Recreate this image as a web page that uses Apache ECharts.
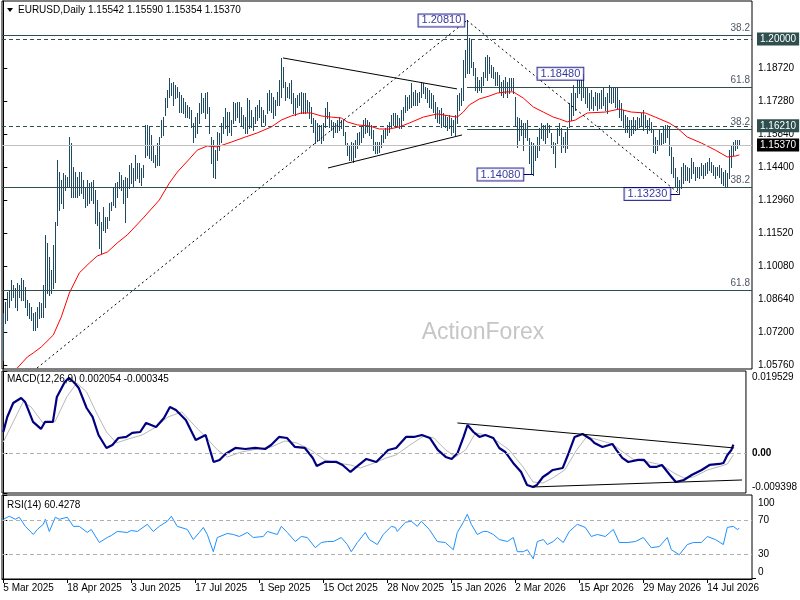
<!DOCTYPE html>
<html><head><meta charset="utf-8">
<script src="https://cdn.jsdelivr.net/npm/echarts@6/dist/echarts.min.js"></script>
<style>html,body{margin:0;padding:0;background:#fff}#c{width:800px;height:600px}</style>
</head><body><div id="c"></div>
<script>
// ---------- DATA ----------
const dateIdx = [0,32,64,96,128,160,192,224,256,288,320,352];
const dateLabels = ['5 Mar 2025','18 Apr 2025','3 Jun 2025','17 Jul 2025','1 Sep 2025','15 Oct 2025','28 Nov 2025','15 Jan 2026','2 Mar 2026','15 Apr 2026','29 May 2026','14 Jul 2026'];
const priceTicks = [1.0576,1.0720,1.0864,1.1008,1.1152,1.1296,1.1440,1.1584,1.1728,1.1872];
const titleOHLC = [1.15542,1.15590,1.15354,1.15370];

const barHigh = [
1.0804,1.0852,1.0896,1.0905,1.0948,1.0926,1.0913,1.0935,1.0926,1.0957,
1.0948,1.0918,1.0861,1.0848,1.0830,1.0804,1.0809,1.0830,1.0852,1.0848,
1.0926,1.1145,1.1110,1.1049,1.0992,1.1101,1.1201,1.1472,1.1419,1.1385,
1.1415,1.1406,1.1398,1.1572,1.1546,1.1441,1.1419,1.1398,1.1419,1.1419,
1.1385,1.1354,1.1385,1.1371,1.1376,1.1385,1.1341,1.1297,1.1245,1.1201,
1.1267,1.1223,1.1223,1.1284,1.1289,1.1354,1.1371,1.1376,1.1419,1.1406,
1.1385,1.1398,1.1393,1.1450,1.1459,1.1437,1.1494,1.1459,1.1459,1.1437,
1.1450,1.1625,1.1625,1.1616,1.1581,1.1537,1.1494,1.1546,1.1572,1.1646,
1.1659,1.1742,1.1777,1.1830,1.1808,1.1812,1.1799,1.1790,1.1769,1.1755,
1.1742,1.1725,1.1712,1.1703,1.1690,1.1633,1.1659,1.1677,1.1721,1.1764,
1.1742,1.1764,1.1769,1.1703,1.1572,1.1559,1.1515,1.1594,1.1590,1.1633,
1.1659,1.1699,1.1681,1.1681,1.1646,1.1725,1.1721,1.1725,1.1725,1.1703,
1.1668,1.1659,1.1742,1.1734,1.1690,1.1659,1.1703,1.1712,1.1734,1.1703,
1.1690,1.1668,1.1764,1.1777,1.1764,1.1747,1.1734,1.1769,1.1821,1.1917,
1.1878,1.1812,1.1790,1.1808,1.1821,1.1764,1.1742,1.1755,1.1764,1.1769,
1.1764,1.1764,1.1734,1.1725,1.1703,1.1655,1.1646,1.1633,1.1625,1.1625,
1.1633,1.1699,1.1725,1.1681,1.1646,1.1638,1.1633,1.1646,1.1659,1.1646,
1.1646,1.1594,1.1546,1.1537,1.1550,1.1546,1.1559,1.1590,1.1594,1.1616,
1.1646,1.1655,1.1646,1.1638,1.1625,1.1603,1.1550,1.1550,1.1550,1.1581,
1.1603,1.1611,1.1625,1.1638,1.1668,1.1677,1.1677,1.1668,1.1655,1.1690,
1.1703,1.1755,1.1747,1.1755,1.1808,1.1769,1.1777,1.1764,1.1769,1.1812,
1.1808,1.1790,1.1786,1.1777,1.1764,1.1755,1.1725,1.1703,1.1690,1.1699,
1.1677,1.1668,1.1659,1.1668,1.1655,1.1646,1.1668,1.1755,1.1764,1.1786,
1.1908,1.1952,1.2081,1.2004,1.1995,1.1899,1.1873,1.1834,1.1821,1.1834,
1.1856,1.1921,1.1930,1.1921,1.1886,1.1878,1.1856,1.1856,1.1843,1.1812,
1.1821,1.1834,1.1812,1.1830,1.1830,1.1830,1.1747,1.1659,1.1655,1.1646,
1.1633,1.1633,1.1646,1.1568,1.1550,1.1546,1.1537,1.1572,1.1611,1.1633,
1.1625,1.1625,1.1633,1.1625,1.1590,1.1550,1.1546,1.1611,1.1633,1.1611,
1.1572,1.1594,1.1616,1.1721,1.1764,1.1799,1.1764,1.1821,1.1821,1.1821,
1.1848,1.1790,1.1786,1.1764,1.1777,1.1747,1.1769,1.1764,1.1764,1.1777,
1.1786,1.1747,1.1764,1.1799,1.1790,1.1790,1.1790,1.1786,1.1734,1.1721,
1.1690,1.1668,1.1659,1.1646,1.1646,1.1659,1.1646,1.1659,1.1655,1.1677,
1.1690,1.1668,1.1646,1.1655,1.1638,1.1603,1.1572,1.1559,1.1603,1.1590,
1.1616,1.1625,1.1625,1.1616,1.1529,1.1485,1.1437,1.1398,1.1385,1.1441,
1.1459,1.1450,1.1441,1.1437,1.1481,1.1463,1.1441,1.1441,1.1441,1.1459,
1.1450,1.1459,1.1463,1.1481,1.1463,1.1450,1.1441,1.1441,1.1450,1.1437,
1.1419,1.1428,1.1415,1.1515,1.1537,1.1550,1.1559,1.1559,1.1559
];
const barLow = [
1.0599,1.0761,1.0774,1.0830,1.0861,1.0874,1.0830,1.0817,1.0874,1.0861,
1.0861,1.0830,1.0795,1.0782,1.0774,1.0730,1.0730,1.0743,1.0782,1.0787,
1.0787,1.0830,1.0891,1.0883,1.0891,1.0913,1.0939,1.1188,1.1254,1.1284,
1.1262,1.1341,1.1354,1.1354,1.1310,1.1310,1.1310,1.1310,1.1319,1.1328,
1.1306,1.1267,1.1275,1.1284,1.1297,1.1284,1.1197,1.1188,1.1088,1.1066,
1.1166,1.1158,1.1175,1.1210,1.1254,1.1275,1.1267,1.1310,1.1350,1.1341,
1.1284,1.1201,1.1310,1.1350,1.1371,1.1354,1.1385,1.1393,1.1376,1.1363,
1.1398,1.1485,1.1494,1.1481,1.1472,1.1463,1.1441,1.1450,1.1450,1.1572,
1.1581,1.1668,1.1703,1.1747,1.1755,1.1712,1.1742,1.1747,1.1681,1.1681,
1.1677,1.1659,1.1659,1.1655,1.1616,1.1550,1.1572,1.1590,1.1633,1.1677,
1.1681,1.1655,1.1677,1.1590,1.1459,1.1398,1.1393,1.1472,1.1515,1.1550,
1.1590,1.1611,1.1581,1.1594,1.1581,1.1633,1.1646,1.1659,1.1638,1.1625,
1.1611,1.1590,1.1590,1.1611,1.1616,1.1603,1.1633,1.1646,1.1659,1.1625,
1.1638,1.1625,1.1677,1.1690,1.1681,1.1655,1.1668,1.1712,1.1712,1.1747,
1.1790,1.1734,1.1747,1.1742,1.1721,1.1677,1.1668,1.1703,1.1712,1.1677,
1.1677,1.1677,1.1681,1.1655,1.1633,1.1594,1.1546,1.1559,1.1559,1.1546,
1.1559,1.1616,1.1655,1.1616,1.1603,1.1572,1.1594,1.1594,1.1603,1.1611,
1.1581,1.1537,1.1494,1.1472,1.1472,1.1463,1.1485,1.1524,1.1537,1.1550,
1.1572,1.1590,1.1594,1.1581,1.1568,1.1515,1.1502,1.1502,1.1507,1.1529,
1.1550,1.1568,1.1581,1.1594,1.1616,1.1625,1.1616,1.1625,1.1611,1.1611,
1.1646,1.1681,1.1690,1.1699,1.1703,1.1712,1.1712,1.1712,1.1725,1.1747,
1.1764,1.1742,1.1725,1.1703,1.1699,1.1681,1.1655,1.1638,1.1633,1.1616,
1.1625,1.1616,1.1603,1.1611,1.1581,1.1594,1.1581,1.1633,1.1690,1.1712,
1.1734,1.1834,1.1851,1.1851,1.1878,1.1843,1.1777,1.1769,1.1777,1.1769,
1.1799,1.1834,1.1821,1.1851,1.1834,1.1830,1.1799,1.1799,1.1769,1.1755,
1.1747,1.1764,1.1747,1.1764,1.1777,1.1764,1.1625,1.1529,1.1559,1.1581,
1.1515,1.1572,1.1559,1.1459,1.1415,1.1408,1.1472,1.1485,1.1515,1.1568,
1.1559,1.1546,1.1572,1.1594,1.1529,1.1502,1.1441,1.1546,1.1581,1.1507,
1.1529,1.1507,1.1524,1.1616,1.1646,1.1668,1.1690,1.1747,1.1764,1.1734,
1.1747,1.1721,1.1703,1.1690,1.1699,1.1690,1.1712,1.1690,1.1699,1.1699,
1.1712,1.1690,1.1677,1.1725,1.1721,1.1725,1.1703,1.1699,1.1659,1.1646,
1.1616,1.1594,1.1594,1.1572,1.1581,1.1590,1.1603,1.1611,1.1616,1.1625,
1.1603,1.1616,1.1590,1.1603,1.1594,1.1507,1.1502,1.1515,1.1537,1.1537,
1.1546,1.1550,1.1572,1.1494,1.1415,1.1398,1.1354,1.1341,1.1323,1.1350,
1.1371,1.1385,1.1385,1.1376,1.1393,1.1415,1.1385,1.1398,1.1393,1.1406,
1.1393,1.1406,1.1415,1.1428,1.1419,1.1406,1.1393,1.1406,1.1398,1.1371,
1.1363,1.1354,1.1354,1.1393,1.1441,1.1494,1.1515,1.1524,1.1537
];

const maIdx = [7,12,15,19,25,29,33,38,43,47,52,57,62,70,78,83,87,93,97,102,107,114,121,127,134,139,144,149,154,159,164,169,172,177,183,188,193,198,203,210,217,223,227,230,233,238,243,247,252,255,260,265,270,275,278,282,286,292,301,308,314,321,326,333,337,342,349,356,362,366,368];
const maVal = [1.0564,1.0612,1.0630,1.0656,1.0708,1.0787,1.0891,1.0979,1.1022,1.1053,1.1070,1.1110,1.1145,1.1219,1.1297,1.1371,1.1419,1.1476,1.1515,1.1533,1.1529,1.1550,1.1572,1.1590,1.1616,1.1646,1.1664,1.1677,1.1677,1.1664,1.1659,1.1655,1.1638,1.1625,1.1620,1.1607,1.1607,1.1616,1.1633,1.1659,1.1673,1.1664,1.1659,1.1681,1.1712,1.1738,1.1751,1.1764,1.1769,1.1769,1.1742,1.1703,1.1681,1.1659,1.1651,1.1638,1.1646,1.1677,1.1681,1.1694,1.1681,1.1677,1.1659,1.1633,1.1611,1.1572,1.1546,1.1515,1.1485,1.1489,1.1494];

const macdIdx = [0,2,5,9,11,15,19,21,25,27,31,33,36,38,42,45,48,52,55,58,62,65,69,72,77,81,84,87,92,97,100,102,103,106,109,112,117,122,127,132,135,139,143,147,152,156,158,162,168,171,175,178,183,188,194,198,203,207,211,215,219,223,226,229,232,234,237,240,243,247,250,253,257,261,264,267,269,272,275,277,282,285,288,292,296,298,302,307,309,312,315,320,323,326,329,332,336,339,343,347,352,356,361,363,365,367,368];
const macdVal = [0.00507,0.00863,0.01195,0.01314,0.01219,0.00745,0.00579,0.00745,0.00745,0.01337,0.01693,0.01788,0.01669,0.01551,0.01076,0.00863,0.00436,0.00128,0.00199,0.00365,0.00389,0.00484,0.00507,0.00721,0.00626,0.00839,0.01100,0.01029,0.00792,0.00318,0.00389,0.00436,0.00270,-0.00204,-0.00156,-0.00014,0.00128,0.00104,0.00128,0.00104,0.00199,0.00389,0.00365,0.00152,0.00128,-0.00109,-0.00299,-0.00204,-0.00204,-0.00275,-0.00441,-0.00322,-0.00133,-0.00204,0.00081,0.00128,0.00389,0.00389,0.00436,0.00365,0.00081,-0.00085,-0.00133,0.00009,0.00389,0.00673,0.00507,0.00389,0.00436,0.00365,0.00128,0.00033,-0.00228,-0.00441,-0.00749,-0.00797,-0.00749,-0.00560,-0.00465,-0.00394,-0.00346,0.00009,0.00389,0.00460,0.00341,0.00247,0.00152,0.00223,0.00081,-0.00109,-0.00204,-0.00156,-0.00156,-0.00322,-0.00322,-0.00275,-0.00512,-0.00678,-0.00631,-0.00512,-0.00394,-0.00275,-0.00251,-0.00228,-0.00038,0.00081,0.002054];
const sigIdx = [0,5,10,14,20,26,32,37,42,47,52,57,63,70,77,83,90,97,102,108,113,120,128,135,142,148,155,162,168,175,180,187,193,198,205,212,217,223,228,233,238,243,248,255,262,267,272,277,283,289,294,300,307,313,318,325,332,338,343,348,355,362,365,368];
const sigVal = [0.00270,0.00745,0.01219,0.01100,0.00721,0.00745,0.01337,0.01669,0.01456,0.00958,0.00507,0.00247,0.00341,0.00436,0.00626,0.00863,0.00982,0.00626,0.00389,0.00081,-0.00085,0.00033,0.00104,0.00152,0.00294,0.00247,0.00081,-0.00156,-0.00228,-0.00275,-0.00346,-0.00228,-0.00109,-0.00038,0.00199,0.00413,0.00365,0.00081,-0.00085,0.00081,0.00484,0.00436,0.00318,0.00081,-0.00322,-0.00678,-0.00702,-0.00583,-0.00394,0.00081,0.00389,0.00318,0.00223,0.00009,-0.00156,-0.00204,-0.00275,-0.00465,-0.00583,-0.00560,-0.00394,-0.00299,-0.00251,-0.000345];
const macdRange = [-0.009398, 0.019529];

const rsiIdx = [0,3,6,8,11,15,17,20,21,23,26,28,32,33,35,38,42,44,48,52,54,57,62,64,67,72,75,78,82,84,87,92,95,98,100,102,105,107,112,115,118,122,125,130,132,137,139,142,146,149,152,156,159,162,165,169,172,174,177,181,183,187,190,194,196,197,198,201,204,207,209,213,217,221,225,227,230,232,234,237,240,242,245,248,252,255,257,260,262,265,267,270,272,275,277,280,283,287,291,294,297,301,305,308,312,316,320,324,328,332,334,338,342,345,349,352,356,360,362,365,367,368];
const rsiVal = [71.1,74.7,71.1,73.5,62.7,53.0,59.0,65.1,71.1,56.6,73.5,71.1,73.5,73.5,62.7,62.7,55.4,59.0,43.4,49.4,51.8,56.6,55.4,57.8,56.6,65.1,56.6,62.7,68.7,74.7,62.7,59.0,47.0,55.4,61.4,53.0,32.5,49.4,54.2,53.0,50.6,55.4,49.4,50.6,56.6,53.0,62.7,55.4,44.6,50.6,49.4,37.3,43.4,44.6,44.6,49.4,41.0,32.5,43.4,55.4,47.0,41.0,53.0,62.7,61.4,56.6,55.4,67.5,68.7,62.7,68.7,59.0,44.6,43.4,34.9,55.4,67.5,77.1,65.1,53.0,56.6,56.6,53.0,47.0,44.6,49.4,32.5,32.5,34.9,24.1,44.6,47.0,41.0,44.6,49.4,43.4,56.6,65.1,61.4,50.6,53.0,50.6,59.0,43.4,43.4,44.6,49.4,37.3,38.6,49.4,34.9,28.9,41.0,43.4,43.4,50.6,47.0,41.0,61.4,62.7,59.0,60.4];
const rsiLevels = [70, 30];
const rsiTicks = [30, 70, 100];
const rsiMinLabel = '0';
const macdLast = [0.002054, -0.000345];
const rsiLast = 60.4278;

// drawn objects (bar index, price)
const fibPrices = [1.2017, 1.1789, 1.1608, 1.1353, 1.0905];
const fibLabels = ['38.2','61.8','38.2','38.2','61.8'];
const fibStart = [null, 231.85, 231.85, null, null];
const boxPrices = [1.2000, 1.1621];
const bidPrice = 1.15370;
const dashTrends = [[[16.85,1.0564],[231.85,1.2081]], [[231.85,1.2081],[337.35,1.1329]]];
const solidTrends = [[[139.85,1.1917],[226.85,1.1782]], [[162.35,1.1437],[229.35,1.1581]]];
const macdTrends = [[[228.9,0.00721],[368.4,0.00128]], [[266.9,-0.00797],[372.4,-0.00631]]];
const swingIdx = [232, 290, 265, 338];
const swingVal = [1.2081, 1.1848, 1.1408, 1.1323];
const connectors = [[[259.9,1.1408],[265,1.1408]], [[333.4,1.1323],[338,1.1323]]];

// ---------- CHART ----------
const FONT = "'Liberation Sans', Arial, sans-serif";
const XMIN = -0.65, XMAX = 374.35;
const chart = echarts.init(document.getElementById('c'));

const slate = '#2f4f4f';
const solidLS = {color: slate, width: 1, type: 'solid'};
const dashLS = {color: slate, width: 1, type: [4, 3]};
const fibLab = t => ({show: true, position: 'insideEndTop', formatter: t, color: '#4e5866', fontSize: 10, fontFamily: FONT, distance: 2});
const boxLab = (t, bg) => ({show: true, position: 'end', formatter: t, color: '#fff', backgroundColor: bg, padding: [2, 3, 1, 3], fontSize: 10, fontFamily: FONT, distance: 5});
const noLab = {show: false};

const priceMarks = [];
fibPrices.forEach((p, k) => {
  if (fibStart[k] == null) priceMarks.push({yAxis: p, lineStyle: solidLS, label: fibLab(fibLabels[k])});
  else priceMarks.push([{coord: [fibStart[k], p], lineStyle: solidLS, label: fibLab(fibLabels[k])}, {coord: [XMAX, p], lineStyle: solidLS, label: fibLab(fibLabels[k])}]);
});
boxPrices.forEach(p => priceMarks.push({yAxis: p, lineStyle: dashLS, label: boxLab(p.toFixed(5), slate)}));
priceMarks.push({yAxis: bidPrice, lineStyle: {color: '#c0c0c0', width: 1, type: 'solid'}, label: boxLab(bidPrice.toFixed(5), '#000')});
const dotLS = {color: '#000', width: 1, type: [2, 3]};
dashTrends.forEach(t => priceMarks.push([{coord: t[0], lineStyle: dotLS, label: noLab}, {coord: t[1], lineStyle: dotLS, label: noLab}]));
const blackLS = {color: '#000', width: 1, type: 'solid'};
solidTrends.forEach(t => priceMarks.push([{coord: t[0], lineStyle: blackLS, label: noLab}, {coord: t[1], lineStyle: blackLS, label: noLab}]));
const navyLS = {color: '#000080', width: 1, type: 'solid'};
connectors.forEach(t => priceMarks.push([{coord: t[0], lineStyle: navyLS, label: noLab}, {coord: t[1], lineStyle: navyLS, label: noLab}]));

const grayDash = {color: '#b0b0b0', width: 1, type: [4, 3]};
const macdMarks = [{yAxis: 0, lineStyle: grayDash, label: noLab}];
macdTrends.forEach(t => macdMarks.push([{coord: t[0], lineStyle: blackLS, label: noLab}, {coord: t[1], lineStyle: blackLS, label: noLab}]));
const rsiMarks = rsiLevels.map(v => ({yAxis: v, lineStyle: grayDash, label: noLab}));

const swingDist = [3, 0, 10, 9];
const swingData = swingIdx.map((x, k) => ({value: [x, swingVal[k]], label: {distance: swingDist[k]}}));

const xAx = (g, show) => ({
  type: 'value', gridIndex: g, min: XMIN, max: XMAX, show: show,
  splitLine: {show: false},
  axisLine: {show: show, lineStyle: {color: '#000'}},
  axisTick: {show: show, customValues: dateIdx, length: 4, lineStyle: {color: '#000'}},
  axisLabel: {show: show, customValues: dateIdx, formatter: v => dateLabels[dateIdx.indexOf(Math.round(v))] || '', align: 'left', color: '#000', fontSize: 10, fontFamily: FONT, margin: 4}
});
const richBase = {fontSize: 10, fontFamily: FONT, color: '#000'};
const yBase = (g, min, max, vals, fmt, rich) => ({
  type: 'value', gridIndex: g, position: 'right', min: min, max: max,
  splitLine: {show: false},
  axisLine: {show: true, lineStyle: {color: '#000'}},
  axisTick: {show: true, customValues: vals, length: 4, lineStyle: {color: '#000'}},
  axisLabel: {customValues: vals, formatter: fmt, color: '#000', fontSize: 10, fontFamily: FONT, margin: 6,
    showMinLabel: true, showMaxLabel: true, hideOverlap: false, rich: rich || {}}
});

const gridBase = {left: 2, right: 48, show: true, borderColor: '#000', borderWidth: 1, containLabel: false};

const macdFmt = v => {
  if (Math.abs(v) < 1e-12) return '{b|0.00}';
  if (v > 0.01) return '{hi|' + v.toFixed(6) + '}';
  return '{lo|' + v.toFixed(6) + '}';
};
const rsiFmt = v => {
  const r = Math.round(v);
  if (r === 100) return '{hi|100}';
  return '{n|' + r + '}';
};

chart.setOption({
  animation: false,
  backgroundColor: '#fff',
  grid: [
    Object.assign({top: 1, height: 368}, gridBase),
    Object.assign({top: 371, height: 122}, gridBase),
    Object.assign({top: 495, height: 84}, gridBase),
    {left: 2, right: 48, top: 578, height: 1, show: false, containLabel: false}
  ],
  xAxis: [xAx(0, false), xAx(1, false), xAx(2, false), xAx(3, true)],
  yAxis: [
    yBase(0, 1.05598, 1.21656, priceTicks, v => v.toFixed(5)),
    yBase(1, macdRange[0], macdRange[1], [macdRange[0], 0, macdRange[1]], macdFmt,
      {b: Object.assign({fontWeight: 'bold'}, richBase), hi: Object.assign({padding: [12, 0, 0, 0]}, richBase), lo: Object.assign({padding: [0, 0, 12, 0]}, richBase)}),
    yBase(2, 0, 100, rsiTicks, rsiFmt,
      {n: richBase, hi: Object.assign({padding: [16, 0, 0, 0]}, richBase)}),
    {type: 'value', gridIndex: 3, show: false, min: 0, max: 1}
  ],
  graphic: [
    {type: 'text', x: 483, y: 333, z: 0, silent: true, style: {text: 'ActionForex', fill: '#c6c6c6', fontSize: 23, fontFamily: FONT, align: 'center', verticalAlign: 'middle'}},
    {type: 'polygon', z: 10, shape: {points: [[7, 8], [13, 8], [10, 12]]}, style: {fill: '#000'}},
    {type: 'text', x: 18, y: 10, z: 10, style: {text: 'EURUSD,Daily ' + titleOHLC.map(v => v.toFixed(5)).join(' '), fill: '#000', fontSize: 10, fontFamily: FONT, verticalAlign: 'middle'}},
    {type: 'text', x: 7, y: 379, z: 10, style: {text: 'MACD(12,26,9) ' + macdLast[0].toFixed(6) + ' ' + macdLast[1].toFixed(6), fill: '#000', fontSize: 10, fontFamily: FONT, verticalAlign: 'middle'}},
    {type: 'text', x: 7, y: 505, z: 10, style: {text: 'RSI(14) ' + rsiLast.toFixed(4), fill: '#000', fontSize: 10, fontFamily: FONT, verticalAlign: 'middle'}},
    {type: 'text', x: 758, y: 572, z: 100, style: {text: rsiMinLabel, fill: '#000', fontSize: 10, fontFamily: FONT, verticalAlign: 'middle'}},
    {type: 'line', z: 100, shape: {x1: 752, y1: 578.5, x2: 756, y2: 578.5}, style: {stroke: '#000', lineWidth: 1}}
  ],
  series: [
    {
      type: 'custom', xAxisIndex: 0, yAxisIndex: 0, z: 3, clip: true,
      data: barHigh.map((h, i) => [i, h, barLow[i]]),
      encode: {x: 0, y: [1, 2]},
      renderItem: function (params, api) {
        const i = api.value(0);
        const a = api.coord([i, api.value(1)]);
        const b = api.coord([i, api.value(2)]);
        const x = Math.round(a[0]) + 0.5;
        return {type: 'line', shape: {x1: x, y1: Math.round(a[1]), x2: x, y2: Math.round(b[1]) + 1}, style: {stroke: '#1f4a63', lineWidth: 1}};
      }
    },
    {
      type: 'line', xAxisIndex: 0, yAxisIndex: 0, z: 4, showSymbol: false, symbol: 'none', clip: true,
      data: maIdx.map((x, k) => [x, maVal[k]]),
      lineStyle: {color: '#ff0000', width: 1},
      markLine: {silent: true, precision: 6, symbol: ['none', 'none'], animation: false, data: priceMarks}
    },
    {
      type: 'scatter', xAxisIndex: 0, yAxisIndex: 0, z: 6, symbolSize: 0, silent: true,
      data: swingData,
      label: {show: true, position: 'left', formatter: p => p.value[1].toFixed(5), color: '#000080', backgroundColor: '#fff', borderColor: '#000080', borderWidth: 1, padding: [1, 3, 0, 3], fontSize: 11, lineHeight: 11, fontFamily: FONT}
    },
    {
      type: 'line', xAxisIndex: 1, yAxisIndex: 1, z: 3, showSymbol: false, symbol: 'none',
      data: sigIdx.map((x, k) => [x, sigVal[k]]),
      lineStyle: {color: '#b8b8b8', width: 1}
    },
    {
      type: 'line', xAxisIndex: 1, yAxisIndex: 1, z: 4, showSymbol: false, symbol: 'none',
      data: macdIdx.map((x, k) => [x, macdVal[k]]),
      lineStyle: {color: '#000080', width: 2.2},
      markLine: {silent: true, precision: 8, symbol: ['none', 'none'], animation: false, data: macdMarks}
    },
    {
      type: 'line', xAxisIndex: 2, yAxisIndex: 2, z: 4, showSymbol: false, symbol: 'none',
      data: rsiIdx.map((x, k) => [x, rsiVal[k]]),
      lineStyle: {color: '#1e90ff', width: 1},
      markLine: {silent: true, precision: 4, symbol: ['none', 'none'], animation: false, data: rsiMarks}
    }
  ]
});
</script>
</body></html>
